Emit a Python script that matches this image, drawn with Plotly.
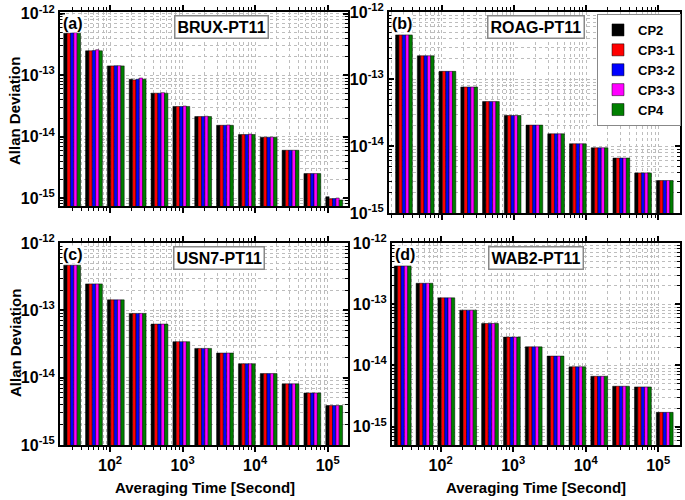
import numpy as np
import plotly.graph_objects as go

tau = [30, 60, 120, 240, 480, 960, 1920, 3840, 7680, 15360, 30720, 61440, 122880]
series_names = ["CP2", "CP3-1", "CP3-2", "CP3-3", "CP4"]
colors = ["#000000", "#FF0000", "#0000FF", "#FF00FF", "#008000"]

brux = {
    "CP2":   [4.85e-13, 2.50e-13, 1.42e-13, 8.6e-14, 5.1e-14, 3.1e-14, 2.12e-14, 1.53e-14, 1.08e-14, 9.8e-15, 6.0e-15, 2.5e-15, 1.05e-15],
    "CP3-1": [4.85e-13, 2.50e-13, 1.42e-13, 8.4e-14, 5.1e-14, 3.1e-14, 2.12e-14, 1.53e-14, 1.08e-14, 9.8e-15, 6.0e-15, 2.5e-15, 0.97e-15],
    "CP3-2": [4.90e-13, 2.52e-13, 1.43e-13, 8.6e-14, 5.1e-14, 3.1e-14, 2.12e-14, 1.53e-14, 1.08e-14, 9.8e-15, 6.0e-15, 2.5e-15, 0.98e-15],
    "CP3-3": [4.95e-13, 2.60e-13, 1.43e-13, 9.0e-14, 5.2e-14, 3.15e-14, 2.15e-14, 1.55e-14, 1.10e-14, 9.8e-15, 6.0e-15, 2.5e-15, 1.0e-15],
    "CP4":   [4.85e-13, 2.50e-13, 1.42e-13, 8.6e-14, 5.1e-14, 3.1e-14, 2.12e-14, 1.53e-14, 1.08e-14, 9.8e-15, 6.0e-15, 2.5e-15, 0.93e-15],
}
roag = {
    "CP2":   [4.55e-13, 2.22e-13, 1.30e-13, 7.6e-14, 4.6e-14, 2.85e-14, 2.05e-14, 1.52e-14, 1.08e-14, 9.4e-15, 6.6e-15, 3.97e-15, 3.05e-15],
    "CP3-1": [4.55e-13, 2.22e-13, 1.30e-13, 7.6e-14, 4.6e-14, 2.85e-14, 2.05e-14, 1.52e-14, 1.08e-14, 9.4e-15, 6.6e-15, 3.97e-15, 3.05e-15],
    "CP3-2": [4.55e-13, 2.22e-13, 1.30e-13, 7.6e-14, 4.6e-14, 2.85e-14, 2.05e-14, 1.52e-14, 1.08e-14, 9.4e-15, 6.6e-15, 3.97e-15, 3.05e-15],
    "CP3-3": [4.55e-13, 2.22e-13, 1.30e-13, 7.6e-14, 4.6e-14, 2.85e-14, 2.05e-14, 1.52e-14, 1.08e-14, 9.4e-15, 6.6e-15, 3.97e-15, 3.05e-15],
    "CP4":   [4.55e-13, 2.22e-13, 1.30e-13, 7.6e-14, 4.6e-14, 2.85e-14, 2.05e-14, 1.52e-14, 1.08e-14, 9.4e-15, 6.6e-15, 3.97e-15, 3.05e-15],
}
usn7 = {
    "CP2":   [4.68e-13, 2.47e-13, 1.43e-13, 9.0e-14, 6.25e-14, 3.42e-14, 2.72e-14, 2.32e-14, 1.61e-14, 1.15e-14, 8.1e-15, 5.93e-15, 3.85e-15],
    "CP3-1": [4.68e-13, 2.47e-13, 1.43e-13, 9.0e-14, 6.25e-14, 3.42e-14, 2.72e-14, 2.32e-14, 1.61e-14, 1.15e-14, 8.1e-15, 5.93e-15, 3.85e-15],
    "CP3-2": [4.68e-13, 2.47e-13, 1.43e-13, 9.0e-14, 6.25e-14, 3.42e-14, 2.72e-14, 2.32e-14, 1.61e-14, 1.15e-14, 8.1e-15, 5.93e-15, 3.85e-15],
    "CP3-3": [4.68e-13, 2.47e-13, 1.43e-13, 9.0e-14, 6.25e-14, 3.42e-14, 2.72e-14, 2.32e-14, 1.61e-14, 1.15e-14, 8.1e-15, 5.93e-15, 3.85e-15],
    "CP4":   [4.68e-13, 2.47e-13, 1.43e-13, 9.0e-14, 6.25e-14, 3.42e-14, 2.72e-14, 2.32e-14, 1.61e-14, 1.15e-14, 8.1e-15, 5.93e-15, 3.85e-15],
}
wab2 = {
    "CP2":   [4.22e-13, 2.20e-13, 1.27e-13, 8.0e-14, 4.84e-14, 2.9e-14, 2.01e-14, 1.42e-14, 9.5e-15, 6.65e-15, 4.57e-15, 4.45e-15, 1.71e-15],
    "CP3-1": [4.22e-13, 2.20e-13, 1.27e-13, 8.0e-14, 4.84e-14, 2.9e-14, 2.01e-14, 1.42e-14, 9.5e-15, 6.65e-15, 4.57e-15, 4.45e-15, 1.71e-15],
    "CP3-2": [4.22e-13, 2.20e-13, 1.27e-13, 8.0e-14, 4.84e-14, 2.9e-14, 2.01e-14, 1.42e-14, 9.5e-15, 6.65e-15, 4.57e-15, 4.45e-15, 1.71e-15],
    "CP3-3": [4.22e-13, 2.20e-13, 1.27e-13, 8.0e-14, 4.84e-14, 2.9e-14, 2.01e-14, 1.42e-14, 9.5e-15, 6.65e-15, 4.57e-15, 4.45e-15, 1.71e-15],
    "CP4":   [4.22e-13, 2.20e-13, 1.27e-13, 8.0e-14, 4.84e-14, 2.9e-14, 2.01e-14, 1.42e-14, 9.5e-15, 6.65e-15, 4.57e-15, 4.45e-15, 1.71e-15],
}

panels = [
    ("(a)", "BRUX-PT11", brux),
    ("(b)", "ROAG-PT11", roag),
    ("(c)", "USN7-PT11", usn7),
    ("(d)", "WAB2-PT11", wab2),
]

y_major = [1e-15, 1e-14, 1e-13, 1e-12]
y_major_text = ["10<sup>-15</sup>", "10<sup>-14</sup>", "10<sup>-13</sup>", "10<sup>-12</sup>"]
x_major = [2, 3, 4, 5]
x_major_text = ["10<sup>2</sup>", "10<sup>3</sup>", "10<sup>4</sup>", "10<sup>5</sup>"]

W, H = 685, 500
# pixel boxes: left, right, top, bottom
boxes = [(60, 348, 12, 206), (389, 680, 12, 213), (60, 348, 243, 445), (392, 680, 243, 445)]
xranges = [[1.31, 5.28], [1.27, 5.30], [1.31, 5.28], [1.33, 5.30]]
yranges = [[-15.13, -11.97], [-15.0, -12.0], [-15.0, -12.0], [-15.3, -12.0]]
title_cx = [221, 536, 219, 536]

FONT = "Liberation Sans"
xlog = np.log10(np.array(tau, dtype=float))

x_minor = [float(np.log10(m * 10 ** e)) for e in range(1, 6) for m in range(2, 10)]
y_minor = [m * 10.0 ** e for e in range(-16, -11) for m in range(2, 10)]

fig = go.Figure()
grid_c = "#bdbdbd"

for i, (lab, title, data) in enumerate(panels):
    ax = "" if i == 0 else str(i + 1)
    for j, name in enumerate(series_names):
        fig.add_trace(go.Bar(
            x=xlog, y=data[name], name=name,
            marker=dict(color=colors[j], line=dict(color="#000000", width=0.5)),
            xaxis="x" + ax, yaxis="y" + ax,
            showlegend=(i == 0), legendgroup=name,
        ))
    l, r, t, b = boxes[i]
    xd = [l / W, r / W]
    yd = [1 - b / H, 1 - t / H]
    show_xlab = i >= 2
    fig.layout["xaxis" + ax] = dict(
        domain=xd, range=xranges[i], anchor="y" + ax,
        tickmode="array", tickvals=x_major, ticktext=x_major_text,
        showticklabels=show_xlab,
        tickfont=dict(family=FONT, size=16, color="black", weight="bold"),
        ticks="outside", ticklen=5, tickwidth=1.5, tickcolor="black",
        showline=True, linewidth=2, linecolor="black", mirror="ticks",
        showgrid=True, gridcolor=grid_c, griddash="dot", gridwidth=1,
        minor=dict(tickmode="array", tickvals=x_minor, ticks="outside", ticklen=3,
                   tickcolor="black", tickwidth=1,
                   showgrid=True, gridcolor=grid_c, griddash="dot", gridwidth=1),
        zeroline=False, fixedrange=True, automargin=False,
    )
    fig.layout["yaxis" + ax] = dict(
        domain=yd, range=yranges[i], type="log", anchor="x" + ax,
        tickmode="array", tickvals=y_major, ticktext=y_major_text,
        tickfont=dict(family=FONT, size=16, color="black", weight="bold"),
        ticks="inside", ticklen=5, tickwidth=1.5, tickcolor="black",
        showline=True, linewidth=2, linecolor="black", mirror="ticks",
        showgrid=True, gridcolor=grid_c, griddash="dot", gridwidth=1,
        minor=dict(tickmode="array", tickvals=y_minor, ticks="inside", ticklen=3,
                   tickcolor="black", tickwidth=1,
                   showgrid=True, gridcolor=grid_c, griddash="dot", gridwidth=1),
        zeroline=False, fixedrange=True, automargin=False,
    )
    # panel title box
    fig.add_annotation(
        x=title_cx[i] / W, y=1 - (t + 15) / H, xref="paper", yref="paper",
        xanchor="center", yanchor="middle",
        text="<b>" + title + "</b>", showarrow=False,
        font=dict(family=FONT, size=16, color="black"),
        bgcolor="white", bordercolor="#888888", borderwidth=1.5, borderpad=2,
    )
    # panel letter
    fig.add_annotation(
        x=(l + 2) / W, y=1 - (t + 2) / H, xref="paper", yref="paper",
        xanchor="left", yanchor="top",
        text="<b>" + lab + "</b>", showarrow=False,
        font=dict(family=FONT, size=16, color="black"),
        bgcolor="white", borderpad=0,
    )

# axis titles
for yc in [111, 343]:
    fig.add_annotation(x=15 / W, y=1 - yc / H, xref="paper", yref="paper",
                       xanchor="center", yanchor="middle",
                       text="<b>Allan Deviation</b>", textangle=-90, showarrow=False,
                       font=dict(family=FONT, size=15, color="black"))
for xc in [205, 536]:
    fig.add_annotation(x=xc / W, y=1 - 487 / H, xref="paper", yref="paper",
                       xanchor="center", yanchor="middle",
                       text="<b>Averaging Time [Second]</b>", showarrow=False,
                       font=dict(family=FONT, size=15, color="black"))

fig.update_layout(
    width=W, height=H, margin=dict(l=0, r=0, t=0, b=0, autoexpand=False),
    paper_bgcolor="white", plot_bgcolor="white",
    barmode="group", bargap=0.23, bargroupgap=0,
    showlegend=True,
    legend=dict(x=681 / W, y=1 - 14 / H, xanchor="right", yanchor="top",
                bgcolor="white", bordercolor="#888888", borderwidth=1,
                font=dict(family=FONT, size=13, color="black", weight="bold"),
                tracegroupgap=0, itemwidth=30),
)

fig.write_html("out.html", config={"displayModeBar": False},
               post_script="document.body.style.margin='0px';")
